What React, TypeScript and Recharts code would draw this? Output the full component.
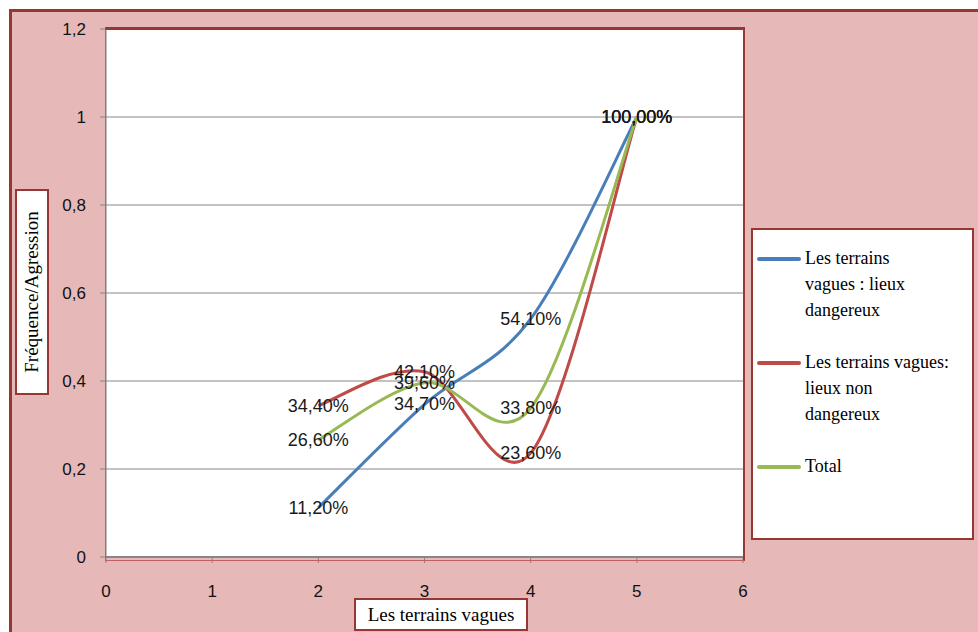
import React from 'react'
import { LineChart, Line, XAxis, YAxis, CartesianGrid } from 'recharts'

// ── Data ────────────────────────────────────────────────────────────────────
const xValues = [2, 3, 4, 5]
const dangereux = [0.112, 0.347, 0.541, 1]
const nonDangereux = [0.344, 0.421, 0.236, 1]
const total = [0.266, 0.396, 0.338, 1]
const xTicks = [0, 1, 2, 3, 4, 5, 6]
const yTicks = [0, 0.2, 0.4, 0.6, 0.8, 1, 1.2]

const SERIES = [
  { key: 'dangereux', color: '#4a7ebb', label: ['Les terrains', 'vagues : lieux', 'dangereux'] },
  { key: 'nonDangereux', color: '#be4b48', label: ['Les terrains vagues:', 'lieux non', 'dangereux'] },
  { key: 'total', color: '#98b954', label: ['Total'] },
]

const data = xValues.map((x, i) => ({
  x,
  dangereux: dangereux[i],
  nonDangereux: nonDangereux[i],
  total: total[i],
}))

const DARK_RED = '#953735'
const GRID = '#868686'
const SANS = '"Liberation Sans", Arial, sans-serif'
const SERIF = '"Liberation Serif", "Times New Roman", serif'

const comma = (v: number) => String(v).replace('.', ',')
const pct = (v: number) => (v * 100).toFixed(2).replace('.', ',') + '%'

// Excel-style smoothed line (cardinal spline, 1/6 tangents)
const excelCurve = (context: any) => {
  let pts: number[][] = []
  return {
    areaStart() {},
    areaEnd() {},
    lineStart() { pts = [] },
    point(x: number, y: number) { pts.push([+x, +y]) },
    lineEnd() {
      const n = pts.length
      if (!n) return
      context.moveTo(pts[0][0], pts[0][1])
      for (let i = 0; i < n - 1; i++) {
        const p0 = pts[i - 1] || pts[i]
        const p1 = pts[i]
        const p2 = pts[i + 1]
        const p3 = pts[i + 2] || p2
        context.bezierCurveTo(
          p1[0] + (p2[0] - p0[0]) / 6, p1[1] + (p2[1] - p0[1]) / 6,
          p2[0] - (p3[0] - p1[0]) / 6, p2[1] - (p3[1] - p1[1]) / 6,
          p2[0], p2[1],
        )
      }
    },
  }
}

const renderLabel = (props: any) => {
  const { x, y, value, index } = props
  return (
    <text
      key={index}
      x={x}
      y={y}
      textAnchor="middle"
      dominantBaseline="central"
      fontFamily={SANS}
      fontSize={18}
      fill="#1a1a1a"
    >
      {pct(value)}
    </text>
  )
}

const App: React.FC = () => {
  return (
    <div style={{ position: 'absolute', left: 0, top: 0, width: 978, height: 632, background: '#fff', overflow: 'hidden' }}>
      {/* chart frame */}
      <div style={{
        position: 'absolute', left: 9, top: 9, width: 990, height: 640,
        background: '#e6b9b8', border: `3px solid ${DARK_RED}`,
      }} />

      <div style={{ position: 'absolute', left: 0, top: 0 }}>
        <LineChart width={978} height={632} data={data} margin={{ top: 29, right: 235, left: 46, bottom: 35 }}>
          <CartesianGrid vertical={false} stroke={GRID} fill="#fff" />
          <XAxis
            dataKey="x"
            type="number"
            domain={[0, 6]}
            ticks={xTicks}
            height={40}
            tickSize={6}
            tickMargin={22}
            axisLine={{ stroke: GRID, strokeWidth: 2 }}
            tickLine={{ stroke: GRID }}
            tick={{ fill: '#111', fontSize: 17, fontFamily: SANS }}
          />
          <YAxis
            type="number"
            domain={[0, 1.2]}
            ticks={yTicks}
            width={60}
            tickSize={6}
            tickMargin={14}
            tickFormatter={comma}
            axisLine={{ stroke: GRID }}
            tickLine={{ stroke: GRID }}
            tick={{ fill: '#111', fontSize: 17, fontFamily: SANS }}
          />
          {SERIES.map(s => (
            <Line
              key={s.key}
              dataKey={s.key}
              type={excelCurve as any}
              stroke={s.color}
              strokeWidth={3}
              dot={false}
              activeDot={false}
              label={renderLabel}
              isAnimationActive={false}
            />
          ))}
        </LineChart>
      </div>

      {/* plot area border */}
      <div style={{
        position: 'absolute', left: 105, top: 27, width: 637, height: 530,
        borderTop: `3px solid ${DARK_RED}`, borderRight: `2px solid ${DARK_RED}`,
        borderLeft: `1px solid #c06060`, borderBottom: `1px solid #c06060`,
        pointerEvents: 'none', boxSizing: 'content-box',
      }} />

      {/* y axis title */}
      <div style={{
        position: 'absolute', left: 32 - 103, top: 292 - 17, width: 206, height: 34,
        transform: 'rotate(-90deg)', background: '#fff', border: `2px solid ${DARK_RED}`,
        boxSizing: 'border-box', display: 'flex', alignItems: 'center', justifyContent: 'center',
        fontFamily: SERIF, fontSize: 19, color: '#000',
      }}>
        Fréquence/Agression
      </div>

      {/* x axis title */}
      <div style={{
        position: 'absolute', left: 354, top: 598, width: 174, height: 33,
        background: '#fff', border: `2px solid ${DARK_RED}`,
        boxSizing: 'border-box', display: 'flex', alignItems: 'center', justifyContent: 'center',
        fontFamily: SERIF, fontSize: 19, color: '#000',
      }}>
        Les terrains vagues
      </div>

      {/* legend */}
      <div style={{
        position: 'absolute', left: 751, top: 228, width: 223, height: 312,
        background: '#fff', border: `2px solid ${DARK_RED}`, boxSizing: 'border-box',
      }}>
        {SERIES.map((s, i) => {
          const top = [15, 119, 223][i]
          return (
            <div key={s.key} style={{ position: 'absolute', left: 4, top }}>
              <div style={{
                position: 'absolute', left: 0, top: 12, width: 44, height: 4,
                background: s.color, borderRadius: 2,
              }} />
              <div style={{
                position: 'absolute', left: 48, top: 0, width: 170,
                fontFamily: SERIF, fontSize: 18, lineHeight: '26px', color: '#000', whiteSpace: 'nowrap',
              }}>
                {s.label.map(l => <div key={l}>{l}</div>)}
              </div>
            </div>
          )
        })}
      </div>
    </div>
  )
}

export default App
